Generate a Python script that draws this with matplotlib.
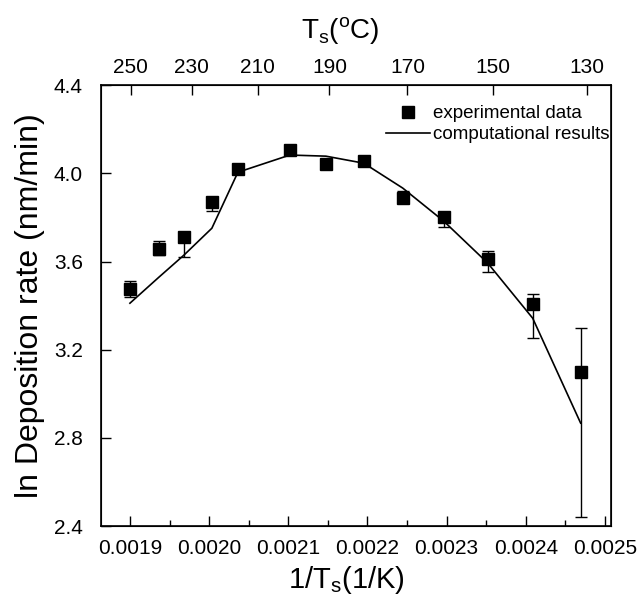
import matplotlib
matplotlib.use('Agg')
import matplotlib.pyplot as plt
from matplotlib.lines import Line2D
from matplotlib.ticker import MultipleLocator, FormatStrFormatter

plt.rcParams['font.family'] = ['Liberation Sans', 'DejaVu Sans']

# 1/Ts (1/K)
inv_t = [0.0019000, 0.0019366, 0.0019682, 0.0020035, 0.0020364, 0.0021020, 0.0021475,
         0.0021955, 0.0022447, 0.0022965, 0.0023520, 0.0024088, 0.0024694]
# experimental ln(rate) with error bars (lower, upper)
exp_rate = [3.475, 3.656, 3.711, 3.869, 4.019, 4.105, 4.042, 4.055, 3.888, 3.801, 3.611, 3.407, 3.098]
err_low = [0.036, 0.025, 0.090, 0.040, 0.020, 0.020, 0.020, 0.020, 0.020, 0.045, 0.059, 0.154, 0.657]
err_up = [0.036, 0.037, 0.025, 0.020, 0.020, 0.020, 0.020, 0.020, 0.030, 0.020, 0.036, 0.045, 0.200]
# computational results
calc_rate = [3.411, 3.529, 3.629, 3.751, 4.005, 4.083, 4.078, 4.046, 3.933, 3.783, 3.593, 3.343, 2.867]
# top axis temperatures (deg C)
top_temps = [250, 230, 210, 190, 170, 150, 130]

fig = plt.figure(figsize=(6.39, 6.04), dpi=100)
ax = fig.add_axes([0.158, 0.129, 0.798, 0.730])

ax.plot(inv_t, calc_rate, color='black', lw=1.2, zorder=2)
ax.errorbar(inv_t, exp_rate, yerr=[err_low, err_up], fmt='s', color='black', ms=8.5,
            elinewidth=1.0, capsize=4.5, capthick=1.0, zorder=3)

ax.set_xlim(0.0018634, 0.0025076)
ax.set_ylim(2.4, 4.4)
ax.xaxis.set_major_locator(MultipleLocator(0.0001))
ax.xaxis.set_minor_locator(MultipleLocator(0.00005))
ax.xaxis.set_major_formatter(FormatStrFormatter('%.4f'))
ax.yaxis.set_major_locator(MultipleLocator(0.4))
ax.yaxis.set_major_formatter(FormatStrFormatter('%.1f'))

ax.tick_params(axis='x', which='major', direction='in', length=7, width=1, labelsize=15, pad=9, top=False)
ax.tick_params(axis='x', which='minor', direction='in', length=4, width=1, top=False)
ax.tick_params(axis='y', which='major', direction='in', length=7, width=1, labelsize=15, pad=13, right=False)
for s in ax.spines.values():
    s.set_linewidth(1.2)

ax.set_xlabel('1/T$_{\\mathregular{s}}$(1/K)', fontsize=21, labelpad=2)
ax.xaxis.set_label_coords(0.482, -0.085)
ax.set_ylabel('ln Deposition rate (nm/min)', fontsize=23, labelpad=6)

# top axis in Celsius
ax2 = ax.twiny()
ax2.set_xlim(0.0018741, 0.0025104)
ax2.set_xticks([1.0 / (t + 273.15) for t in top_temps])
ax2.set_xticklabels([str(t) for t in top_temps])
ax2.tick_params(axis='x', direction='in', length=7, width=1, labelsize=15, pad=6)
ax2.set_xlabel('T$_{\\mathregular{s}}$($^{\\mathregular{o}}$C)', fontsize=20, labelpad=8)
ax2.xaxis.set_label_coords(0.47, 1.105)

handles = [Line2D([], [], marker='s', ls='none', color='black', ms=8.5),
           Line2D([], [], color='black', lw=1.2)]
ax.legend(handles, ['experimental data', 'computational results'], loc='upper right',
          bbox_to_anchor=(1.02, 0.98), frameon=False, fontsize=13.5, handlelength=2.3,
          handletextpad=0.2, labelspacing=0.2, borderaxespad=0.2)

fig.savefig('out.png', dpi=100)
